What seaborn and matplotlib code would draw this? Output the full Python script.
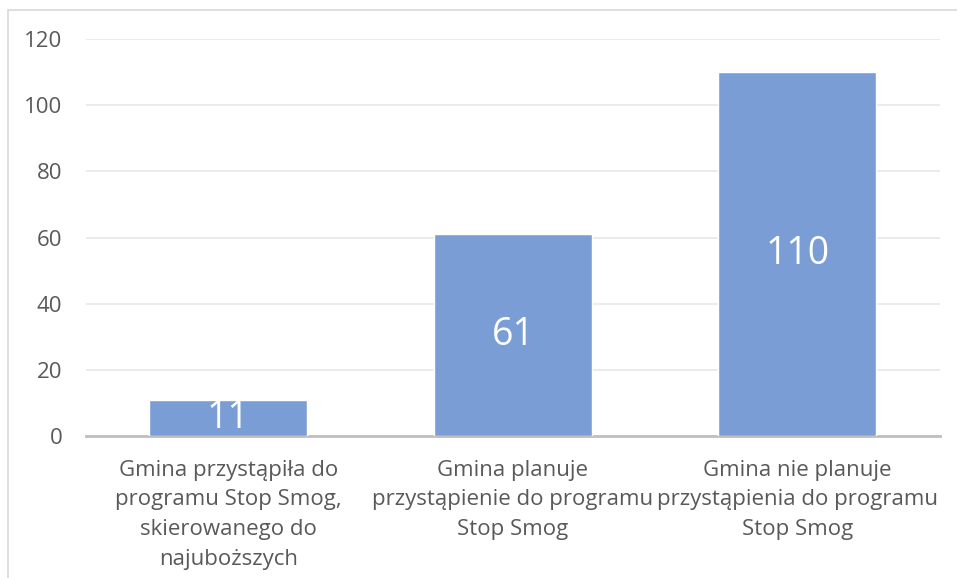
import pandas as pd
import seaborn as sns
import matplotlib.pyplot as plt
from matplotlib.patches import Rectangle

# data
categories = [
    'Gmina przystąpiła do\nprogramu Stop Smog,\nskierowanego do\nnajuboższych',
    'Gmina planuje\nprzystąpienie do programu\nStop Smog',
    'Gmina nie planuje\nprzystąpienia do programu\nStop Smog',
]
values = [11, 61, 110]
y_ticks = [0, 20, 40, 60, 80, 100, 120]

bar_color = '#7A9DD6'
text_color = '#595959'

sns.set_style("white")
plt.rcParams['font.family'] = ['Open Sans', 'DejaVu Sans']

df = pd.DataFrame({'cat': categories, 'val': values})

fig = plt.figure(figsize=(9.57, 5.78), dpi=100)
ax = fig.add_axes([0.0899, 0.2457, 0.892, 0.6868])

sns.barplot(data=df, x='cat', y='val', color=bar_color, saturation=1,
            width=0.555, ax=ax, zorder=3)

ax.set_ylim(0, 120)
ax.set_yticks(y_ticks)
ax.set_xlim(-0.5, 2.5)
ax.grid(axis='y', color='#EBEBEB', linewidth=1.4, zorder=0)
ax.set_axisbelow(True)
for s in ['top', 'right', 'left']:
    ax.spines[s].set_visible(False)
ax.spines['bottom'].set_color('#BFBFBF')
ax.spines['bottom'].set_linewidth(2)
ax.tick_params(axis='both', length=0, colors=text_color, labelsize=16)
ax.tick_params(axis='y', pad=17)
ax.tick_params(axis='x', pad=17)
ax.set_xlabel(None)
ax.set_ylabel(None)
for lbl in ax.get_xticklabels():
    lbl.set_linespacing(1.55)
    lbl.set_horizontalalignment('center')

# value labels inside the bars
for p, v in zip(ax.patches, values):
    ax.text(p.get_x() + p.get_width() / 2, v / 2, str(v), ha='center', va='center',
            color='white', fontsize=27, zorder=4)

# light frame around the chart area
fig.patches.append(Rectangle((8 / 957, -0.05), 1.1, 1 - 10 / 578 + 0.05,
                             transform=fig.transFigure, fill=False,
                             edgecolor='#D9D9D9', linewidth=1.2))

plt.savefig('out.png', dpi=100)
